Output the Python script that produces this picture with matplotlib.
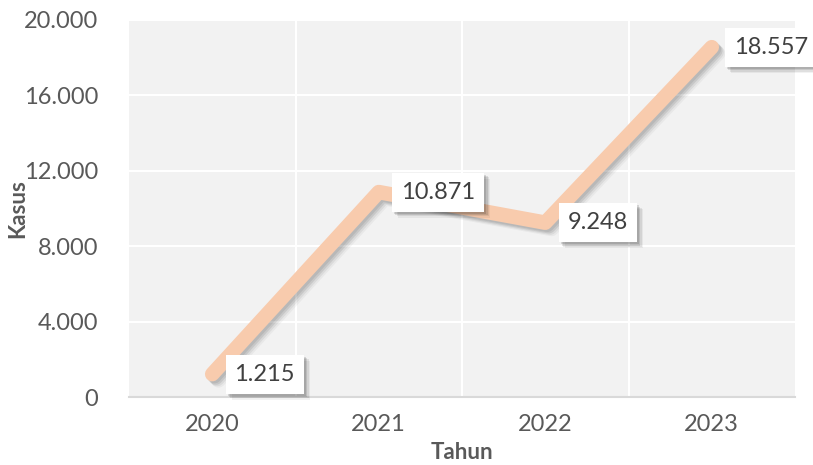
import matplotlib
matplotlib.use("Agg")
import matplotlib.pyplot as plt
import matplotlib.patheffects as pe
from matplotlib.ticker import FuncFormatter

years = ["2020", "2021", "2022", "2023"]
kasus = [1215, 10871, 9248, 18557]
labels = ["1.215", "10.871", "9.248", "18.557"]
yticks = [0, 4000, 8000, 12000, 16000, 20000]

plt.rcParams['font.family'] = ['Lato', 'DejaVu Sans']

fig = plt.figure(figsize=(8.13, 4.65), dpi=100)
ax = fig.add_axes([129/813, 1-397/465, (795-129)/813, (397-20)/465])
ax.set_facecolor('#f2f2f2')

x = list(range(len(years)))

line_shadow = []
for dx, dy, a in [(1.5, -1.5, 0.10), (2.5, -2.5, 0.10), (3.5, -3.5, 0.08), (4.5, -4.5, 0.05)]:
    line_shadow.append(pe.SimpleLineShadow(offset=(dx, dy), shadow_color='#333333', alpha=a))
ax.plot(x, kasus, color='#f8cbad', lw=10.5, solid_capstyle='round', solid_joinstyle='round',
        path_effects=line_shadow + [pe.Normal()], zorder=3)

for xi, v, lab in zip(x, kasus, labels):
    t = ax.annotate(lab, (xi, v), xytext=(16, 0), textcoords='offset points', ha='left', va='center',
                    fontsize=17, color='#404040', zorder=5,
                    bbox=dict(boxstyle='square,pad=0.38', fc='white', ec='none'))
    effs = []
    for d, a in [(1.5, 0.12), (2.5, 0.10), (3.5, 0.08), (4.5, 0.05)]:
        effs.append(pe.SimplePatchShadow(offset=(d, -d), shadow_rgbFace='#000000', alpha=a))
    t.get_bbox_patch().set_path_effects(effs + [pe.Normal()])

ax.set_xlim(-0.5, len(years) - 0.5)
ax.set_ylim(0, 20000)
ax.set_xticks(x)
ax.set_xticklabels(years)
ax.set_yticks(yticks)
ax.yaxis.set_major_formatter(FuncFormatter(lambda v, p: f"{int(v):,}".replace(",", ".")))
ax.set_xticks([i + 0.5 for i in x[:-1]], minor=True)

ax.grid(axis='y', which='major', color='white', lw=1.5)
ax.grid(axis='x', which='minor', color='white', lw=1.5)
ax.grid(axis='x', which='major', visible=False)
ax.set_axisbelow(True)

for s in ['top', 'right', 'left']:
    ax.spines[s].set_visible(False)
ax.spines['bottom'].set_color('#d9d9d9')
ax.spines['bottom'].set_linewidth(1.5)

ax.tick_params(axis='both', which='both', length=0, labelsize=17, labelcolor='#595959')
ax.tick_params(axis='x', pad=12)
ax.tick_params(axis='y', pad=22)

ax.set_xlabel("Tahun", fontsize=16, fontweight='bold', color='#595959')
ax.set_ylabel("Kasus", fontsize=16, fontweight='bold', color='#595959')
ax.yaxis.set_label_coords(-111/666, 0.5)
ax.xaxis.set_label_coords(0.5, -55/377)
ax.xaxis.label.set_va('center')
ax.yaxis.label.set_va('center')

fig.savefig("out.png", dpi=100)
